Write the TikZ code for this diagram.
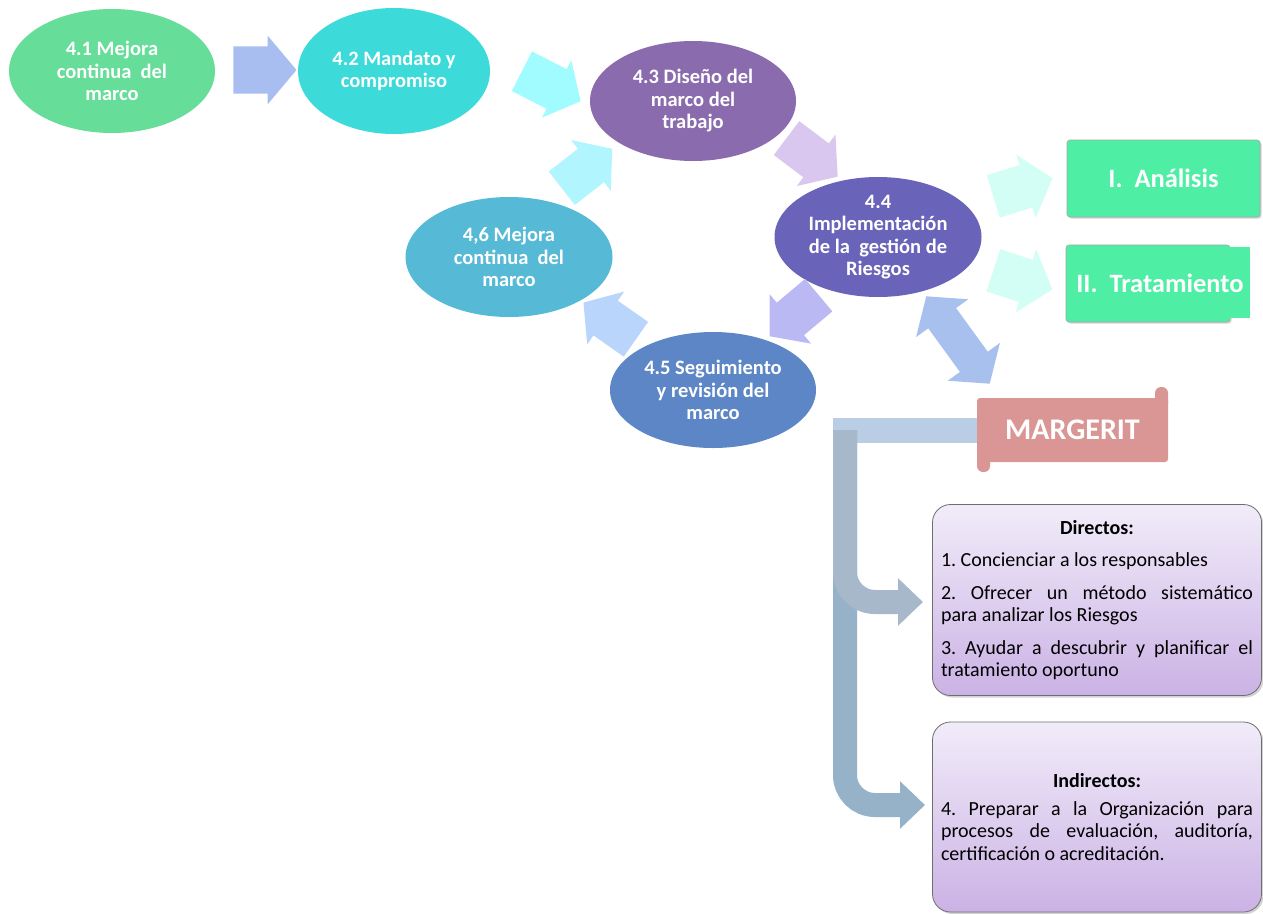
\documentclass[tikz,border=0pt]{standalone}
\usepackage{fontspec}
\setmainfont{Carlito}
\usetikzlibrary{shapes.geometric,shapes.arrows,shadows,arrows.meta}
\definecolor{e1}{HTML}{66DD99}
\definecolor{e2}{HTML}{3DDADA}
\definecolor{e3}{HTML}{8A6BAD}
\definecolor{e4}{HTML}{6963B9}
\definecolor{e5}{HTML}{5C86C6}
\definecolor{e6}{HTML}{56B9D5}
\definecolor{ar1}{HTML}{A9BEF0}
\definecolor{ar2}{HTML}{A1FCFF}
\definecolor{ar3}{HTML}{D9C7EF}
\definecolor{ar4}{HTML}{BBB9F3}
\definecolor{ar5}{HTML}{B9D5FB}
\definecolor{ar6}{HTML}{B1F5FF}
\definecolor{ar7}{HTML}{D3FEF5}
\definecolor{ar9}{HTML}{A8C0EE}
\definecolor{grn}{HTML}{4EEEA5}
\definecolor{rose}{HTML}{D99694}
\definecolor{bartop}{HTML}{B9CDE5}
\definecolor{barmid}{HTML}{A7B8CA}
\definecolor{barlow}{HTML}{95B2C9}
\definecolor{boxtop}{HTML}{F1ECF9}
\definecolor{boxbot}{HTML}{CBB2E5}
\definecolor{boxline}{HTML}{6E6E6E}
\frenchspacing
\begin{document}
\begin{tikzpicture}[x=1pt,y=-1pt,
  ell/.style n args={3}{ellipse, draw=none, fill=#1, inner sep=0pt, minimum width=#2, minimum height=#3},
  etext/.style={text=white, font=\fontsize{20.5}{22.5}\selectfont\bfseries, align=center, inner sep=0pt},
  blockarr/.style n args={4}{single arrow, draw=none, fill=#4, inner sep=0pt, minimum width=0pt, minimum height=#1, text height=#2, text depth=0pt, single arrow head extend=#3, single arrow tip angle=100},
  greenbox/.style={rectangle, rounded corners=3pt, fill=grn, draw=black!35, line width=0.6pt, drop shadow={opacity=0.35, shadow xshift=1.5pt, shadow yshift=-1.5pt}},
  gtext/.style={text=white, font=\fontsize{26.5}{30}\selectfont\bfseries, inner sep=0pt},
  infobox/.style={rectangle, rounded corners=18pt, top color=boxtop, bottom color=boxbot, draw=boxline, line width=0.8pt, text width=312pt, align=justify, font=\fontsize{20}{22.5}\selectfont, drop shadow={opacity=0.35, shadow xshift=2pt, shadow yshift=-2pt}, minimum width=329pt, inner xsep=8.5pt},
  bent/.style={line width=24pt, rounded corners=30pt, -{Triangle[width=46pt,length=25pt]}}
]
\fill[white] (0,0) rectangle (1263,913);
\useasboundingbox (0,0) rectangle (1263,913);

% ellipses
\node[ell={e1}{206pt}{124pt}] (n1) at (112,71) {};
\node[etext] (t1) at (n1.center) {4.1 Mejora\\continua~ del\\marco};
\node[ell={e2}{192pt}{126pt}] (n2) at (394,71) {};
\node[etext] (t2) at (n2.center) {4.2 Mandato y\\compromiso};
\node[ell={e3}{206pt}{120pt}] (n3) at (693,101) {};
\node[etext] (t3) at (n3.center) {4.3 Diseño del\\marco del\\trabajo};
\node[ell={e4}{207pt}{120pt}] (n4) at (878,237) {};
\node[etext] (t4) at (n4.center) {4.4\\Implementación\\de la~ gestión de\\Riesgos};
\node[ell={e5}{206pt}{116pt}] (n5) at (713,390) {};
\node[etext] (t5) at (n5.center) {4.5 Seguimiento\\y revisión del\\marco};
\node[ell={e6}{207pt}{120pt}] (n6) at (509,257) {};
\node[etext] (t6) at (n6.center) {4,6 Mejora\\continua~ del\\marco};

% block arrows
\node[blockarr={63pt}{47pt}{10.5pt}{ar1}] (a1) at (255,70) {};
\node[blockarr={66pt}{44pt}{10pt}{ar2}, rotate=-27] (a2) at (543,82) {};
\node[blockarr={64pt}{42pt}{11pt}{ar3}, rotate=-37] (a3) at (805,152) {};
\node[blockarr={64pt}{42pt}{11pt}{ar4}, rotate=-140] (a4) at (801,310) {};
\node[blockarr={64pt}{42pt}{11pt}{ar5}, rotate=145] (a5) at (617,326) {};
\node[blockarr={64pt}{42pt}{11pt}{ar6}, rotate=38] (a6) at (580,174) {};
\node[blockarr={62pt}{44pt}{11pt}{ar7}, rotate=17] (a7) at (1014,190) {};
\node[blockarr={62pt}{44pt}{11pt}{ar7}, rotate=-18] (a8) at (1014,277) {};
\node[double arrow, draw=none, fill=ar9, inner sep=0pt, minimum width=0pt, minimum height=108pt, text height=34pt, text depth=0pt, double arrow head extend=15pt, double arrow tip angle=100, rotate=-54] (a9) at (958,340) {};

% green boxes
\node[greenbox, minimum width=193pt, minimum height=77pt] (b1) at (1163.5,178.5) {};
\node[gtext] (bt1) at (b1.center) {I.~~Análisis};
\node[greenbox, minimum width=164pt, minimum height=77pt] (b2) at (1148,283.5) {};
\fill[grn] (1222,247) rectangle (1250,318);
\node[gtext] (bt2) at (1160,283) {II.~~Tratamiento};

% MARGERIT scroll
\fill[rose, rounded corners=6pt] (1155,387) rectangle (1168,410);
\fill[rose, rounded corners=6pt] (977,450) rectangle (990,472);
\node[rectangle, rounded corners=3pt, fill=rose, minimum width=191pt, minimum height=64pt, text=white, font=\fontsize{30}{34}\selectfont\bfseries] (mg) at (1072.5,430) {MARGERIT};

% info boxes
\node[infobox, minimum height=191pt] (dir) at (1097,600) {\setlength{\parskip}{10pt}\hyphenpenalty=10000
\hfill\textbf{Directos:}\hfill\null\par
1. Concienciar a los responsables\par
2. Ofrecer un método sistemático\linebreak para analizar los Riesgos\par
3. Ayudar a descubrir y planificar el\linebreak tratamiento oportuno\par};
\node[infobox, minimum height=190pt] (ind) at (1097,817) {\setlength{\parskip}{5.5pt}\hyphenpenalty=10000
\hfill\textbf{Indirectos:}\hfill\null\par
4. Preparar a la Organización para\linebreak procesos de evaluación, auditoría,\linebreak certificación o acreditación.\par};

% bent connectors from MARGERIT
\coordinate (corner) at (833,430);
\coordinate (top) at (845,430);
\coordinate (tipA) at (923,602);
\coordinate (tipB) at (925,805);
\draw[line width=25pt, bartop] (mg.west) -- (corner);
\draw[bent, barlow] (top) |- (tipB);
\draw[bent, barmid] (top) |- (tipA);
\end{tikzpicture}
\end{document}
